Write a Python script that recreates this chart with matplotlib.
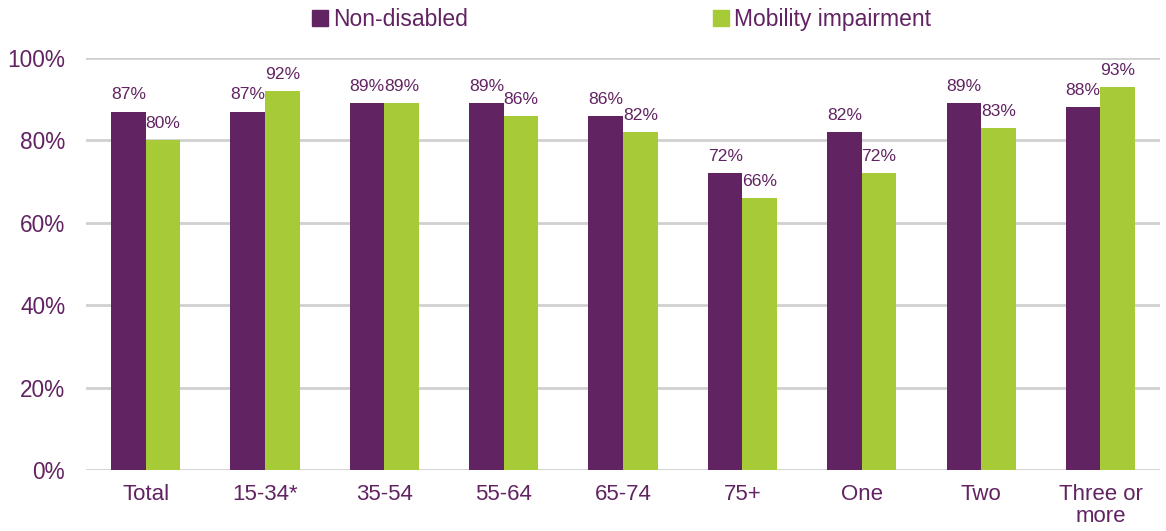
import matplotlib.pyplot as plt
import numpy as np
from matplotlib.patches import Patch

plt.rcParams['font.family'] = ['Liberation Sans', 'DejaVu Sans']

PURPLE = '#612362'
GREEN = '#a7cb37'
GRID = '#d0d0d0'

categories = ['Total', '15-34*', '35-54', '55-64', '65-74', '75+', 'One', 'Two',
              'Three or\nmore']
non_disabled = [87, 87, 89, 89, 86, 72, 82, 89, 88]
mobility = [80, 92, 89, 86, 82, 66, 72, 83, 93]
yticks = [0, 20, 40, 60, 80, 100]

fig = plt.figure(figsize=(11.66, 5.31), dpi=100)
ax = fig.add_axes([0.0738, 0.1149, 0.9212, 0.7759])

xs = np.arange(len(categories))
w = 0.29
b1 = ax.bar(xs - w / 2, non_disabled, w, color=PURPLE, zorder=3)
b2 = ax.bar(xs + w / 2, mobility, w, color=GREEN, zorder=3)

for bars, vals in ((b1, non_disabled), (b2, mobility)):
    for rect, v in zip(bars, vals):
        ax.text(rect.get_x() + rect.get_width() / 2, v + 2.2, f'{v}%',
                ha='center', va='bottom', fontsize=12.6, color=PURPLE,
                clip_on=False)

ax.set_xlim(-0.5, len(categories) - 0.5)
ax.set_ylim(0, 100)
ax.set_yticks(yticks)
ax.set_yticklabels([f'{t}%' for t in yticks], fontsize=16.3, color=PURPLE)
ax.set_xticks(xs)
ax.set_xticklabels(categories, fontsize=16, color=PURPLE, linespacing=1.1)
ax.tick_params(length=0)
ax.tick_params(axis='x', pad=10)
ax.tick_params(axis='y', pad=15)
ax.yaxis.grid(True, color=GRID, linewidth=2, zorder=0)
ax.set_axisbelow(True)
for s in ax.spines.values():
    s.set_visible(False)

handles = [Patch(color=PURPLE, label='Non-disabled'),
           Patch(color=GREEN, label='Mobility impairment')]
leg = fig.legend(handles=handles, ncol=2, loc='upper center',
                 bbox_to_anchor=(0.533, 1.023), frameon=False, fontsize=16.5,
                 handlelength=0.7, handleheight=0.7, handletextpad=0.2,
                 columnspacing=10.7)
for t in leg.get_texts():
    t.set_color(PURPLE)

fig.savefig('out.png', dpi=100)
